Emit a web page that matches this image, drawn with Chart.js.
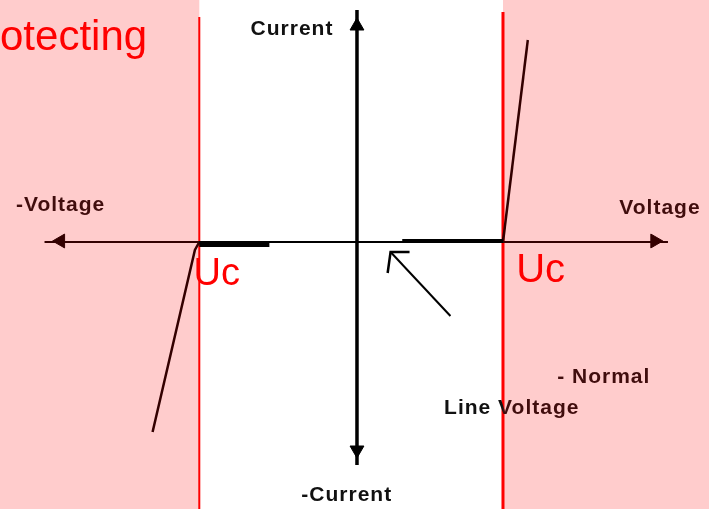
<!DOCTYPE html>
<html>
<head>
<meta charset="utf-8">
<script src="https://cdn.jsdelivr.net/npm/chart.js@4/dist/chart.umd.min.js"></script>
<style>
  body { margin: 0; background: #fff; }
  #wrap { width: 709px; height: 509px; position: relative; }
</style>
</head>
<body>
<div id="wrap"><canvas id="vChart"></canvas></div>
<script>
// units: voltage with Uc = 1, current in arbitrary units
const rightCurveV = [1.00, 1.17];
const rightCurveI = [0.00, 2.02];
const leftCurveV = [-1.08, -1.11, -1.40];
const leftCurveI = [0.00, -0.08, -1.90];

const leftNormalV = [-1.08, -0.60];
const leftNormalI = [-0.03, -0.03];
const rightNormalV = [0.31, 1.00];
const rightNormalI = [0.01, 0.01];

const voltAxisV = [-2.14, 2.13];
const voltAxisI = [0.00, 0.00];
const currAxisV = [0.00, 0.00];
const currAxisI = [2.32, -2.23];

const arrowV = [-2.03, 2.04, 0.00, 0.00];
const arrowI = [0.01, 0.01, 2.16, -2.08];
const arrowRot = [270, 90, 0, 180];

const ucLeft = -1.08;
const ucRight = 1.00;
const limitTopLeft = 2.25;
const limitTopRight = 2.30;

const pointerV = [0.64, 0.23];
const pointerI = [-0.74, -0.10];
const pointerHeadV = [0.36, 0.23, 0.21];
const pointerHeadI = [-0.10, -0.10, -0.31];

const xRange = [-2.445, 2.411];
const yRange = [-2.67, 2.42];

function zip(xs, ys) {
    return xs.map((v, i) => ({ x: v, y: ys[i] }));
}

function lineSet(xs, ys, color, width) {
    return {
        data: zip(xs, ys),
        showLine: true,
        borderColor: color,
        borderWidth: width,
        pointRadius: 0,
        tension: 0,
        fill: false
    };
}

const labels = [
    { text: 'Current', x: -0.445, y: 2.13, align: 'center' },
    { text: '-Current', x: -0.07, y: -2.53, align: 'center' },
    { text: '-Voltage', x: -2.03, y: 0.37, align: 'center' },
    { text: 'Voltage', x: 2.075, y: 0.34, align: 'center' },
    { text: '- Normal', x: 1.69, y: -1.35, align: 'center' },
    { text: 'Line Voltage', x: 1.06, y: -1.66, align: 'center' }
];

const diagramPlugin = {
    id: 'diagram',
    afterDatasetsDraw(chart) {
        const { ctx, scales: { x, y }, chartArea } = chart;
        ctx.save();

        // black axis labels
        ctx.fillStyle = '#111';
        ctx.font = 'bold 21px "Liberation Sans", Arial, sans-serif';
        ctx.letterSpacing = '1px';
        ctx.textBaseline = 'middle';
        labels.forEach(l => {
            ctx.textAlign = l.align;
            ctx.fillText(l.text, x.getPixelForValue(l.x), y.getPixelForValue(l.y));
        });

        // red texts
        ctx.letterSpacing = '0px';
        ctx.fillStyle = '#ff0000';
        ctx.textBaseline = 'alphabetic';
        ctx.textAlign = 'left';
        ctx.font = '42px "Liberation Sans", Arial, sans-serif';
        ctx.fillText('otecting', x.getPixelForValue(xRange[0]), y.getPixelForValue(1.92));
        ctx.font = '38px "Liberation Sans", Arial, sans-serif';
        ctx.fillText('Uc', x.getPixelForValue(-1.12), y.getPixelForValue(-0.43));
        ctx.font = '40px "Liberation Sans", Arial, sans-serif';
        ctx.fillText('Uc', x.getPixelForValue(1.09), y.getPixelForValue(-0.40));

        // protection zones, tinted overlay
        ctx.fillStyle = 'rgba(255,0,0,0.2)';
        const l0 = x.getPixelForValue(xRange[0]);
        const l1 = x.getPixelForValue(ucLeft);
        const r0 = x.getPixelForValue(ucRight);
        const r1 = x.getPixelForValue(xRange[1]);
        ctx.fillRect(l0, chartArea.top, l1 - l0, chartArea.bottom - chartArea.top);
        ctx.fillRect(r0, chartArea.top, r1 - r0, chartArea.bottom - chartArea.top);
        ctx.restore();
    }
};

new Chart(document.getElementById('vChart'), {
    type: 'scatter',
    data: {
        datasets: [
            lineSet(voltAxisV, voltAxisI, '#000', 2),
            lineSet(currAxisV, currAxisI, '#000', 3.5),
            lineSet(leftNormalV, leftNormalI, '#000', 4),
            lineSet(rightNormalV, rightNormalI, '#000', 4),
            lineSet(rightCurveV, rightCurveI, '#000', 2.5),
            lineSet(leftCurveV, leftCurveI, '#000', 2.5),
            lineSet(pointerV, pointerI, '#000', 2),
            lineSet(pointerHeadV, pointerHeadI, '#000', 2.5),
            {
                data: zip(arrowV, arrowI),
                showLine: false,
                pointStyle: 'triangle',
                pointRadius: 8,
                rotation: arrowRot,
                backgroundColor: '#000',
                borderColor: '#000',
                borderWidth: 1
            },
            lineSet([ucLeft, ucLeft], [limitTopLeft, yRange[0]], '#ff0000', 2),
            lineSet([ucRight, ucRight], [limitTopRight, yRange[0]], '#ff0000', 3)
        ]
    },
    options: {
        responsive: true,
        maintainAspectRatio: false,
        animation: false,
        devicePixelRatio: 1,
        layout: { padding: 0, autoPadding: false },
        plugins: {
            legend: { display: false },
            tooltip: { enabled: false }
        },
        scales: {
            x: { type: 'linear', min: xRange[0], max: xRange[1], display: false },
            y: { type: 'linear', min: yRange[0], max: yRange[1], display: false }
        }
    },
    plugins: [diagramPlugin]
});
</script>
</body>
</html>
